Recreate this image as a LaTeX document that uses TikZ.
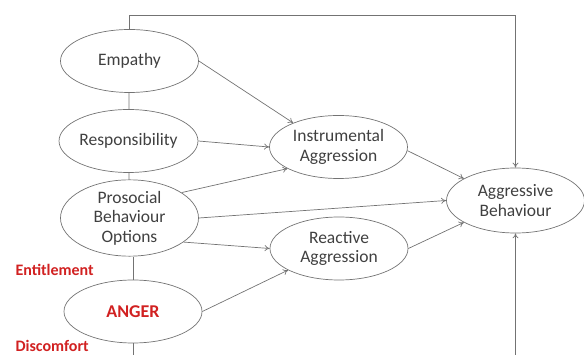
\documentclass[tikz,border=0pt]{standalone}
\usepackage{fontspec}
\setmainfont{Carlito}
\usepackage{tikz}
\usetikzlibrary{positioning}
\usetikzlibrary{calc}
\usetikzlibrary{shapes.geometric}
\usetikzlibrary{arrows.meta}
\definecolor{LineGray}{rgb}{0.45, 0.45, 0.45}
\definecolor{TextGray}{rgb}{0.25, 0.25, 0.25}
\definecolor{Red}{rgb}{0.82, 0.13, 0.13}

\begin{document}
\begin{tikzpicture}[x=1pt, y=-1pt, >={To[length=5pt,width=6pt]},
    factor/.style={ellipse, draw=LineGray, line width=0.7pt, inner sep=0pt,
      minimum width=138pt, minimum height=63pt, align=center, text=TextGray,
      font=\fontsize{17.5}{19.5}\selectfont},
    link/.style={draw=LineGray, line width=0.7pt},
    cue/.style={anchor=west, text=Red, font=\fontsize{16}{18}\selectfont\bfseries}]
      \useasboundingbox (0,0) rectangle (584,355);
      
      \node[factor] at (129.5,61) (emp) {Empathy};
      \node[factor] at (128.5,141) (resp) {Responsibility};
      \node[factor] at (129.5,218) (pro) {Prosocial\\Behaviour\\Options};
      \node[factor, font=\fontsize{18}{20}\selectfont\bfseries, text=Red] at (133,311.5) (anger) {ANGER};
      \node[factor] at (338.5,147) (inst) {Instrumental\\Aggression};
      \node[factor] at (339,248.5) (react) {Reactive\\Aggression};
      \node[factor, minimum height=65pt] at (515.5,200.5) (ab) {Aggressive\\Behaviour};
      
      \node[cue] at (12,270) (ent) {Entitlement};
      \node[cue] at (12,345.5) (disc) {Discomfort};
      
      \coordinate (loop) at (0,15);
      \coordinate (cut) at (0,358);
      
      \draw[link] (emp) -- (resp) -- (pro);
      \draw[link] (pro.south -| anger.north) -- (anger.north);
      \draw[link, ->] (emp.east) -- (inst.152);
      \draw[link, ->] (resp.east) -- (inst.west);
      \draw[link, ->] (pro.26) -- (inst.203);
      \draw[link, ->] (pro.east) -- (ab.west);
      \draw[link, ->] (pro.-24) -- (react.west);
      \draw[link, ->] (anger.east) -- (react.203);
      \draw[link, ->] (inst.-3) -- (ab.157);
      \draw[link, ->] (react.east) -- (ab.203);
      
      % feedback loops
      \draw[link, ->] (emp.north) -- (emp.north |- loop) -| (ab.north);
      \draw[link] (anger.south) -- (anger.south |- cut);
      \draw[link, ->] (ab.south |- cut) -- (ab.south);
    \end{tikzpicture}
\end{document}
